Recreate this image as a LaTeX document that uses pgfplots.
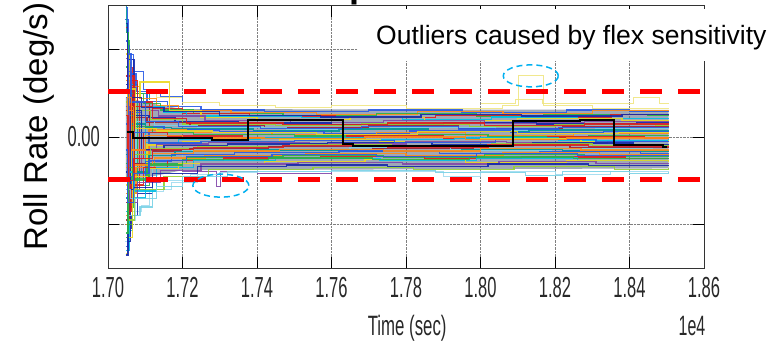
\documentclass[border=0pt]{standalone}
\usepackage{fontspec}
\setmainfont{Liberation Sans}
\usepackage{graphicx}
\usepackage{pgfplots}
\pgfplotsset{compat=1.18}

\definecolor{cblue}{RGB}{40,90,230}
\definecolor{cdblue}{RGB}{20,40,170}
\definecolor{corange}{RGB}{255,140,20}
\definecolor{cgreen}{RGB}{40,180,70}
\definecolor{cred}{RGB}{220,30,30}
\definecolor{ccyan}{RGB}{0,190,230}
\definecolor{cyellow}{RGB}{235,215,30}
\definecolor{cpurple}{RGB}{130,70,170}
\definecolor{clime}{RGB}{150,210,50}
\definecolor{cdred}{RGB}{160,30,50}
\definecolor{clcyan}{RGB}{120,210,230}
\definecolor{cteal}{RGB}{0,150,150}
\definecolor{cpyellow}{RGB}{240,230,130}
\definecolor{cpcyan}{RGB}{160,220,240}
\definecolor{bandfill}{RGB}{95,110,135}
\definecolor{tickgray}{RGB}{40,40,40}
\definecolor{ellcyan}{RGB}{0,176,240}

\newcommand{\tl}[1]{\scalebox{0.57}[1]{\fontsize{29bp}{29bp}\selectfont #1}}
\newcommand{\tr}[2]{\addplot[const plot, draw=#1, line width=1.3bp, opacity=0.9] coordinates {#2};}
\newcommand{\tp}[2]{\addplot[const plot, draw=#1, line width=0.9bp, opacity=0.9] coordinates {#2};}

\begin{document}
\begin{tikzpicture}
\path[use as bounding box] (0,0) rectangle (782bp,346bp);
\clip (0,0) rectangle (782bp,346bp);
\begin{axis}[
  at={(108bp,78bp)}, anchor=south west,
  width=596bp, height=262bp, scale only axis,
  xmin=1.70, xmax=1.86, ymin=-1.5, ymax=1.5,
  xtick={1.70,1.72,1.74,1.76,1.78,1.80,1.82,1.84,1.86},
  xticklabels={\tl{1.70},\tl{1.72},\tl{1.74},\tl{1.76},\tl{1.78},\tl{1.80},\tl{1.82},\tl{1.84},\tl{1.86}},
  ytick={-1,0,1},
  yticklabels={,\tl{0.00},},
  xticklabel style={inner sep=0pt, anchor=north, text=tickgray},
  yticklabel style={inner sep=0pt, anchor=east, text=tickgray},
  xticklabel shift=9bp,
  yticklabel shift=8bp,
  tick align=inside, tick pos=both,
  major tick length=11bp,
  tick style={line width=0.8bp, black},
  grid=major,
  major grid style={densely dotted, line width=0.6bp, gray},
  axis line style={line width=1bp, black!80},
  title={Sub-minimum Impulse with 200 ms Wait},
  title style={at={(axis description cs:0.49,1)}, anchor=base, yshift=2.5bp, inner sep=0pt, font=\fontsize{36bp}{36bp}\selectfont\bfseries},
  xlabel={\scalebox{0.6}[1]{\fontsize{28bp}{28bp}\selectfont Time (sec)}},
  xlabel style={at={(axis description cs:0.502,0)}, anchor=base, yshift=-67bp, inner sep=0pt, text=tickgray},
  ylabel={Roll Rate (deg/s)},
  ylabel style={at={(axis description cs:-0.1023,0.54)}, anchor=base, inner sep=0pt, font=\fontsize{33bp}{33bp}\selectfont},
]
% underlying band
\addplot[fill=bandfill, draw=none, opacity=0.6] coordinates {(1.7048,0.45)(1.7120,0.38)(1.7200,0.32)(1.8505,0.31)(1.8505,-0.36)(1.7200,-0.38)(1.7120,-0.45)(1.7048,-0.50)} -- cycle;
% pale outliers
\tp{cpyellow}{(1.7800,0.33)(1.8060,0.36)(1.8101,0.70)(1.8168,0.36)(1.8300,0.33)(1.8505,0.33)}
\tp{cpyellow}{(1.8000,0.38)(1.8095,0.43)(1.8165,0.38)(1.8410,0.45)(1.8480,0.38)(1.8505,0.38)}
\tp{cpurple}{(1.7200,-0.40)(1.7292,-0.57)(1.7302,-0.40)(1.7400,-0.42)(1.7600,-0.40)}
\tp{cpcyan}{(1.7600,-0.40)(1.7900,-0.45)(1.8000,-0.40)(1.8200,-0.43)(1.8350,-0.40)(1.8505,-0.40)}
\tp{cpcyan}{(1.7048,-0.5)(1.7058,-0.95)(1.7075,-0.7)(1.7100,-0.62)(1.7150,-0.5)(1.7220,-0.43)(1.7300,-0.41)(1.7400,-0.38)}
\tp{cpyellow}{(1.7048,0.45)(1.7058,0.55)(1.7080,0.52)(1.7130,0.45)(1.7200,0.40)(1.7300,0.36)(1.7450,0.34)(1.7600,0.36)(1.7800,0.33)}
\tp{cpcyan}{(1.7046,-1.2)(1.7058,-0.85)(1.7090,-0.78)(1.7110,-0.60)(1.7170,-0.52)(1.7240,-0.44)}
\tp{cblue}{(1.7046,1.35)(1.7054,0.95)(1.7068,0.75)(1.7095,0.55)(1.7140,0.46)(1.7200,0.40)}
\tp{cdblue}{(1.7047,-1.35)(1.7051,-1.25)(1.7056,-1.05)(1.7064,-0.9)(1.7080,-0.65)(1.7120,-0.5)}
\tp{cteal}{(1.7047,1.5)(1.7050,1.2)(1.7054,0.8)(1.7060,0.65)(1.7075,0.5)(1.7110,0.42)}
\tp{cgreen}{(1.7048,-1.15)(1.7052,1.1)(1.7057,-0.9)(1.7065,0.6)(1.7080,-0.55)(1.7110,0.3)}
\tp{cred}{(1.7049,1.25)(1.7053,-1.0)(1.7058,0.8)(1.7066,-0.6)(1.7085,0.4)(1.7110,-0.35)}
% main traces
\tr{cblue}{(1.7048,1.48)(1.7052,1.05)(1.7058,0.72)(1.7075,0.52)(1.7105,0.41)(1.7160,0.35)(1.7250,0.31)(1.7420,0.29)(1.7700,0.31)(1.7950,0.28)(1.8230,0.31)(1.8400,0.29)(1.8505,0.29)}
\tr{corange}{(1.7048,-0.9)(1.7053,0.85)(1.7060,0.58)(1.7085,0.44)(1.7130,0.36)(1.7190,0.30)(1.7330,0.28)(1.7560,0.26)(1.7830,0.29)(1.8060,0.27)(1.8300,0.30)(1.8505,0.30)}
\tr{cgreen}{(1.7048,1.2)(1.7054,-0.6)(1.7063,0.5)(1.7095,0.38)(1.7140,0.31)(1.7230,0.27)(1.7470,0.25)(1.7720,0.27)(1.7990,0.24)(1.8170,0.26)(1.8450,0.25)(1.8505,0.25)}
\tr{cred}{(1.7048,0.7)(1.7052,-1.1)(1.7059,0.65)(1.7080,0.40)(1.7120,0.33)(1.7200,0.27)(1.7380,0.24)(1.7610,0.22)(1.7880,0.25)(1.8120,0.23)(1.8350,0.26)(1.8505,0.26)}
\tr{ccyan}{(1.7048,-1.3)(1.7056,0.6)(1.7068,-0.7)(1.7100,0.35)(1.7150,0.28)(1.7210,0.24)(1.7520,0.22)(1.7790,0.20)(1.8030,0.23)(1.8260,0.21)(1.8505,0.21)}
\tr{cyellow}{(1.7048,0.95)(1.7058,0.45)(1.7086,0.63)(1.7166,0.30)(1.7250,0.22)(1.7400,0.20)(1.7650,0.22)(1.7850,0.19)(1.8100,0.21)(1.8380,0.19)(1.8505,0.19)}
\tr{cpurple}{(1.7048,-0.5)(1.7053,0.75)(1.7062,-0.4)(1.7090,0.30)(1.7135,0.24)(1.7260,0.19)(1.7490,0.17)(1.7740,0.19)(1.8010,0.16)(1.8280,0.18)(1.8505,0.18)}
\tr{cdblue}{(1.7048,0.6)(1.7052,0.89)(1.7062,0.89)(1.7070,0.25)(1.7110,0.22)(1.7180,0.18)(1.7350,0.16)(1.7600,0.14)(1.7900,0.17)(1.8150,0.15)(1.8420,0.17)(1.8505,0.17)}
\tr{clime}{(1.7048,0.4)(1.7055,-0.5)(1.7072,0.30)(1.7115,0.20)(1.7200,0.15)(1.7450,0.13)(1.7680,0.15)(1.7970,0.12)(1.8200,0.14)(1.8470,0.13)(1.8505,0.13)}
\tr{cdred}{(1.7048,-0.75)(1.7054,0.45)(1.7066,0.22)(1.7105,0.17)(1.7220,0.13)(1.7420,0.11)(1.7700,0.13)(1.7940,0.10)(1.8220,0.12)(1.8505,0.12)}
\tr{clcyan}{(1.7048,0.55)(1.7056,-0.35)(1.7075,0.18)(1.7125,0.13)(1.7240,0.11)(1.7480,0.09)(1.7760,0.11)(1.8040,0.08)(1.8310,0.10)(1.8505,0.10)}
\tr{cteal}{(1.7048,-0.2)(1.7053,0.5)(1.7064,0.15)(1.7100,0.11)(1.7170,0.09)(1.7390,0.07)(1.7620,0.09)(1.7860,0.06)(1.8130,0.08)(1.8400,0.07)(1.8505,0.07)}
\tr{cblue}{(1.7048,1.1)(1.7052,-0.3)(1.7060,0.28)(1.7090,0.12)(1.7150,0.08)(1.7300,0.06)(1.7580,0.04)(1.7810,0.07)(1.8080,0.05)(1.8330,0.06)(1.8505,0.06)}
\tr{corange}{(1.7048,-1.0)(1.7055,0.35)(1.7070,-0.2)(1.7110,0.08)(1.7210,0.05)(1.7440,0.03)(1.7720,0.05)(1.7960,0.02)(1.8250,0.04)(1.8505,0.04)}
\tr{cgreen}{(1.7048,0.8)(1.7054,-0.8)(1.7067,0.12)(1.7120,0.05)(1.7230,0.03)(1.7500,0.01)(1.7780,0.03)(1.8020,0.00)(1.8290,0.02)(1.8505,0.02)}
\tr{cred}{(1.7048,-0.6)(1.7053,0.6)(1.7062,-0.25)(1.7095,0.05)(1.7160,0.01)(1.7360,-0.01)(1.7640,0.01)(1.7900,-0.02)(1.8180,0.00)(1.8440,-0.01)(1.8505,-0.01)}
\tr{ccyan}{(1.7048,0.3)(1.7056,-1.07)(1.7066,-0.3)(1.7100,-0.06)(1.7190,-0.03)(1.7410,-0.01)(1.7690,-0.03)(1.7930,-0.01)(1.8210,-0.04)(1.8505,-0.02)}
\tr{cyellow}{(1.7048,-1.33)(1.7052,0.2)(1.7063,-0.45)(1.7105,-0.09)(1.7200,-0.05)(1.7460,-0.03)(1.7730,-0.05)(1.8000,-0.02)(1.8270,-0.05)(1.8505,-0.04)}
\tr{cpurple}{(1.7048,0.9)(1.7055,-0.7)(1.7070,-0.15)(1.7130,-0.08)(1.7270,-0.06)(1.7540,-0.08)(1.7800,-0.05)(1.8070,-0.07)(1.8340,-0.05)(1.8505,-0.05)}
\tr{cdblue}{(1.7048,-0.4)(1.7053,-1.2)(1.7061,0.3)(1.7090,-0.14)(1.7150,-0.10)(1.7320,-0.08)(1.7590,-0.06)(1.7870,-0.09)(1.8140,-0.07)(1.8410,-0.09)(1.8505,-0.09)}
\tr{clime}{(1.7048,0.5)(1.7054,-0.55)(1.7068,-0.2)(1.7115,-0.13)(1.7240,-0.11)(1.7490,-0.09)(1.7760,-0.11)(1.8030,-0.08)(1.8300,-0.10)(1.8505,-0.10)}
\tr{cdred}{(1.7048,-0.95)(1.7056,0.4)(1.7072,-0.3)(1.7120,-0.16)(1.7220,-0.13)(1.7430,-0.11)(1.7710,-0.13)(1.7980,-0.10)(1.8240,-0.12)(1.8505,-0.12)}
\tr{clcyan}{(1.7048,0.2)(1.7052,-0.9)(1.7086,-0.80)(1.7120,-0.25)(1.7200,-0.16)(1.7380,-0.14)(1.7650,-0.12)(1.7920,-0.15)(1.8190,-0.13)(1.8460,-0.15)(1.8505,-0.15)}
\tr{cteal}{(1.7048,-0.7)(1.7055,0.25)(1.7068,-0.4)(1.7110,-0.21)(1.7180,-0.17)(1.7400,-0.15)(1.7670,-0.17)(1.7950,-0.14)(1.8220,-0.16)(1.8505,-0.16)}
\tr{cblue}{(1.7048,-1.25)(1.7053,-0.5)(1.7063,-0.6)(1.7100,-0.28)(1.7170,-0.20)(1.7340,-0.18)(1.7620,-0.16)(1.7890,-0.19)(1.8160,-0.17)(1.8430,-0.19)(1.8505,-0.19)}
\tr{corange}{(1.7048,0.65)(1.7056,-0.65)(1.7075,-0.35)(1.7125,-0.24)(1.7260,-0.21)(1.7530,-0.19)(1.7800,-0.21)(1.8060,-0.18)(1.8320,-0.20)(1.8505,-0.20)}
\tr{cgreen}{(1.7048,-0.3)(1.7054,-1.0)(1.7066,-0.5)(1.7105,-0.30)(1.7210,-0.23)(1.7470,-0.21)(1.7740,-0.23)(1.8010,-0.20)(1.8280,-0.22)(1.8505,-0.22)}
\tr{cred}{(1.7048,1.0)(1.7052,-0.85)(1.7062,-0.55)(1.7095,-0.35)(1.7160,-0.27)(1.7310,-0.24)(1.7570,-0.22)(1.7850,-0.25)(1.8110,-0.23)(1.8390,-0.25)(1.8505,-0.25)}
\tr{ccyan}{(1.7048,-0.85)(1.7055,-0.4)(1.7070,-0.62)(1.7130,-0.35)(1.7230,-0.27)(1.7450,-0.25)(1.7730,-0.27)(1.7990,-0.24)(1.8260,-0.27)(1.8505,-0.26)}
\tr{cyellow}{(1.7048,-0.55)(1.7053,-1.15)(1.7065,-0.45)(1.7110,-0.36)(1.7190,-0.30)(1.7420,-0.28)(1.7690,-0.26)(1.7960,-0.29)(1.8230,-0.27)(1.8505,-0.28)}
\tr{cpurple}{(1.7048,0.35)(1.7056,-0.75)(1.7080,-0.52)(1.7140,-0.38)(1.7250,-0.31)(1.7510,-0.29)(1.7790,-0.31)(1.8050,-0.28)(1.8310,-0.30)(1.8505,-0.30)}
\tr{cdblue}{(1.7048,-1.36)(1.7054,-0.6)(1.7068,-0.58)(1.7120,-0.42)(1.7240,-0.34)(1.7480,-0.32)(1.7750,-0.34)(1.8020,-0.31)(1.8290,-0.33)(1.8505,-0.33)}
\tr{clime}{(1.7048,-0.45)(1.7055,-0.95)(1.7072,-0.6)(1.7150,-0.45)(1.7270,-0.37)(1.7550,-0.35)(1.7820,-0.37)(1.8090,-0.34)(1.8360,-0.37)(1.8505,-0.36)}
\tp{clcyan}{(1.7048,-0.6)(1.7060,-0.7)(1.7130,-0.57)(1.7200,-0.45)(1.7320,-0.40)(1.7600,-0.38)(1.7880,-0.41)(1.8120,-0.44)(1.8220,-0.39)(1.8400,-0.42)(1.8505,-0.40)}
\tr{cred}{(1.7048,0.3)(1.7055,0.7)(1.7070,0.35)(1.7120,0.21)(1.7210,0.16)(1.7470,0.14)(1.7750,0.16)(1.8010,0.13)(1.8280,0.15)(1.8505,0.15)}
\tr{cyellow}{(1.7048,-0.25)(1.7054,0.55)(1.7074,0.1)(1.7130,0.07)(1.7280,0.05)(1.7560,0.03)(1.7830,0.06)(1.8100,0.04)(1.8370,0.05)(1.8505,0.05)}
\tr{cblue}{(1.7048,0.45)(1.7053,-0.45)(1.7067,0.05)(1.7110,-0.07)(1.7250,-0.05)(1.7500,-0.04)(1.7770,-0.06)(1.8040,-0.03)(1.8310,-0.05)(1.8505,-0.05)}
\tr{corange}{(1.7048,-0.65)(1.7055,0.3)(1.7069,-0.32)(1.7120,-0.19)(1.7230,-0.16)(1.7460,-0.14)(1.7740,-0.16)(1.8000,-0.13)(1.8270,-0.15)(1.8505,-0.15)}
\tr{cdblue}{(1.7048,1.3)(1.7052,0.5)(1.7060,0.45)(1.7090,0.34)(1.7150,0.29)(1.7300,0.25)(1.7570,0.23)(1.7840,0.26)(1.8110,0.24)(1.8380,0.26)(1.8505,0.26)}
\tr{cgreen}{(1.7048,-1.1)(1.7054,-0.35)(1.7066,-0.48)(1.7110,-0.32)(1.7200,-0.26)(1.7430,-0.24)(1.7710,-0.26)(1.7970,-0.23)(1.8250,-0.25)(1.8505,-0.25)}
\tr{cblue}{(1.7048,0.15)(1.7055,0.95)(1.7062,0.4)(1.7100,0.18)(1.7190,0.12)(1.7410,0.10)(1.7680,0.12)(1.7940,0.09)(1.8210,0.11)(1.8505,0.11)}
\tr{corange}{(1.7048,-0.35)(1.7053,0.45)(1.7064,-0.15)(1.7100,0.02)(1.7200,-0.01)(1.7420,-0.02)(1.7690,0.00)(1.7960,-0.03)(1.8230,-0.01)(1.8505,-0.01)}
\tr{cred}{(1.7048,0.25)(1.7054,-0.5)(1.7070,-0.25)(1.7120,-0.14)(1.7230,-0.12)(1.7470,-0.10)(1.7750,-0.12)(1.8020,-0.09)(1.8290,-0.11)(1.8505,-0.11)}
\tr{cblue}{(1.7048,-0.15)(1.7053,-0.75)(1.7068,-0.42)(1.7110,-0.27)(1.7210,-0.22)(1.7440,-0.20)(1.7720,-0.22)(1.7990,-0.19)(1.8260,-0.21)(1.8505,-0.21)}
% nominal (black)
\addplot[const plot, black, line width=2bp] coordinates {(1.7051,0.06)(1.7067,-0.01)(1.7279,-0.035)(1.7376,0.20)(1.7631,-0.08)(1.7658,-0.10)(1.8087,0.18)(1.8267,0.20)(1.8294,0.19)(1.8358,-0.09)(1.8490,-0.11)(1.8501,-0.11)};
% requirement bounds
\addplot[red, line width=5bp, dash pattern=on 22bp off 16bp] coordinates {(1.70,0.52)(1.86,0.52)};
\addplot[red, line width=5bp, dash pattern=on 22bp off 16bp] coordinates {(1.70,-0.49)(1.86,-0.49)};
\coordinate (e1) at (axis cs:1.8135,0.70);
\coordinate (e2) at (axis cs:1.7303,-0.557);
\end{axis}
\draw[ellcyan, line width=1.5bp, dash pattern=on 6bp off 4bp] (e1) ellipse [x radius=27.5bp, y radius=11bp];
\draw[ellcyan, line width=1.5bp, dash pattern=on 6bp off 4bp] (e2) ellipse [x radius=28bp, y radius=11.5bp];
\fill[white] (358bp,285bp) rectangle (782bp,337bp);
\node[anchor=base west, inner sep=0pt, font=\fontsize{26.5bp}{26.5bp}\selectfont] at (376bp,301.5bp) {Outliers caused by flex sensitivity};
\node[anchor=base, inner sep=0pt, text=tickgray] at (692bp,11bp) {\scalebox{0.57}[1]{\fontsize{28bp}{28bp}\selectfont 1e4}};
\end{tikzpicture}
\end{document}
